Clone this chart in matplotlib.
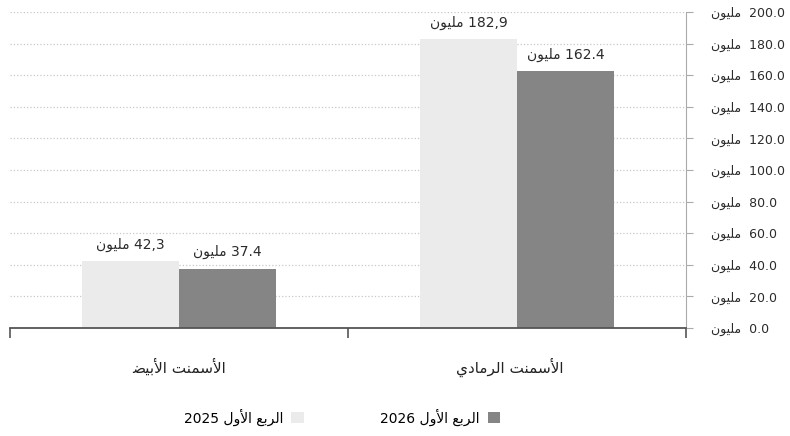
import matplotlib
matplotlib.use("Agg")
import matplotlib.pyplot as plt
import numpy as np

# data (logical order: first category is drawn on the right, RTL)
categories = ['الأسمنت الرمادي', 'الأسمنت الأبيض']
q1_2025 = [182.9, 42.3]
q1_2026 = [162.4, 37.4]
labels_2025 = ['182,9', '42,3']
labels_2026 = ['162.4', '37.4']
series_names = ['الربع الأول 2025', 'الربع الأول 2026']
yticks = [0, 20, 40, 60, 80, 100, 120, 140, 160, 180, 200]
unit = 'مليون'

# --- minimal arabic shaping (matplotlib has no bidi / joining) ---
# letter: (isolated, final, initial, medial); None = right-joining only
FORMS = {
    'ا': ('\uFE8D', '\uFE8E', None, None),
    'أ': ('\uFE83', '\uFE84', None, None),
    'ب': ('\uFE8F', '\uFE90', '\uFE91', '\uFE92'),
    'ت': ('\uFE95', '\uFE96', '\uFE97', '\uFE98'),
    'د': ('\uFEA9', '\uFEAA', None, None),
    'ر': ('\uFEAD', '\uFEAE', None, None),
    'س': ('\uFEB1', '\uFEB2', '\uFEB3', '\uFEB4'),
    'ض': ('\uFEBF', '\uFEC0', '\uFEC1', '\uFEC2'),
    'ع': ('\uFEC9', '\uFECA', '\uFECB', '\uFECC'),
    'ل': ('\uFEDD', '\uFEDE', '\uFEDF', '\uFEE0'),
    'م': ('\uFEE1', '\uFEE2', '\uFEE3', '\uFEE4'),
    'ن': ('\uFEE5', '\uFEE6', '\uFEE7', '\uFEE8'),
    'و': ('\uFEED', '\uFEEE', None, None),
    'ي': ('\uFEF1', '\uFEF2', '\uFEF3', '\uFEF4'),
}
LAM_ALEF = {'ا': ('\uFEFB', '\uFEFC'), 'أ': ('\uFEF7', '\uFEF8')}


def shape_word(w):
    out = []
    i = 0
    prev_joins = False
    while i < len(w):
        c = w[i]
        if c == 'ل' and i + 1 < len(w) and w[i + 1] in LAM_ALEF:
            out.append(LAM_ALEF[w[i + 1]][1 if prev_joins else 0])
            prev_joins = False
            i += 2
            continue
        f = FORMS[c]
        dual = f[2] is not None
        nxt = i + 1 < len(w) and w[i + 1] in FORMS
        if prev_joins and dual and nxt:
            g = f[3]
        elif prev_joins:
            g = f[1]
        elif dual and nxt:
            g = f[2]
        else:
            g = f[0]
        out.append(g)
        prev_joins = dual and nxt
        i += 1
    return ''.join(out)


def ar(s, sep=' '):
    toks = []
    for t in s.split(' '):
        if any(ch in FORMS for ch in t):
            toks.append(shape_word(t)[::-1])
        else:
            toks.append(t)
    return sep.join(toks[::-1])


plt.rcParams['font.family'] = ['DejaVu Sans']

fig = plt.figure(figsize=(7.9, 4.36), dpi=100)
ax = fig.add_axes([10 / 790, 1 - 328 / 436, 676 / 790, 316 / 436])

n = len(categories)
x = np.array([n - 1 - i for i in range(n)], dtype=float)
w = 0.287

c_light = '#ebebeb'
c_dark = '#858585'
b1 = ax.bar(x - w / 2, q1_2025, w, color=c_light, zorder=2, label=ar(series_names[0]))
b2 = ax.bar(x + w / 2, q1_2026, w, color=c_dark, zorder=2, label=ar(series_names[1]))

for xi, v, t in zip(x, q1_2025, labels_2025):
    ax.text(xi - w / 2, v + 6, ar(t + ' ' + unit), ha='center', va='bottom',
            fontsize=10, color='#2b2b2b')
for xi, v, t in zip(x, q1_2026, labels_2026):
    ax.text(xi + w / 2, v + 6, ar(t + ' ' + unit), ha='center', va='bottom',
            fontsize=10, color='#2b2b2b')

ax.set_xlim(-0.5, n - 0.5)
ax.set_ylim(0, 200)

ax.yaxis.tick_right()
ax.set_yticks(yticks)
ax.set_yticklabels([ar('%.1f %s' % (v, unit), sep='  ') for v in yticks], ha='left')
ax.tick_params(axis='y', length=5, color='#aaaaaa', pad=13, labelsize=9,
               labelcolor='#2b2b2b')

ax.set_xticks(np.arange(-0.5, n, 1.0))
ax.set_xticklabels([])
ax.tick_params(axis='x', length=7, width=1.2, color='#555555')

for xi, cat in zip(x, categories):
    ax.text(xi - 0.02 * xi, -0.125, ar(cat), transform=ax.get_xaxis_transform(),
            ha='center', va='center', fontsize=11, color='#222222')

ax.grid(axis='y', color='#c8c8c8', linestyle=':', linewidth=0.9, zorder=0)
ax.set_axisbelow(True)

for s in ['top', 'left']:
    ax.spines[s].set_visible(False)
ax.spines['right'].set_color('#aaaaaa')
ax.spines['bottom'].set_color('#555555')
ax.spines['bottom'].set_linewidth(1.3)

fig.legend(handles=[b1, b2], loc='center', bbox_to_anchor=(342 / 790, 1 - 417 / 436),
           ncol=2, frameon=False, markerfirst=False, handlelength=0.9,
           handleheight=0.9, columnspacing=5.5, handletextpad=0.6, fontsize=10)

fig.savefig('out.png', dpi=100)
